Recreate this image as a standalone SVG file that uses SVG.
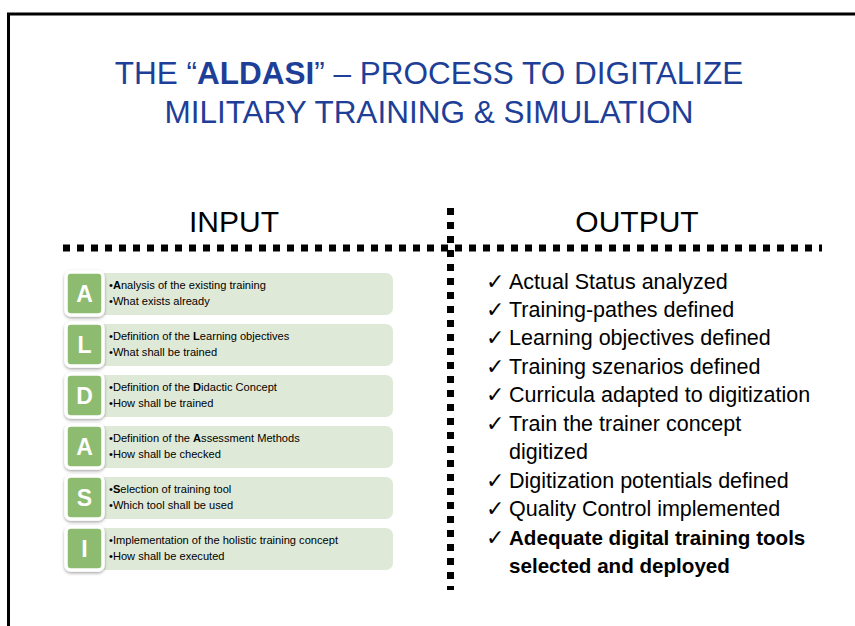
<svg xmlns="http://www.w3.org/2000/svg" width="855" height="626" viewBox="0 0 855 626">
<defs>
<filter id="sh" x="-30%" y="-30%" width="160%" height="160%">
<feDropShadow dx="0" dy="1.5" stdDeviation="1.6" flood-color="#000" flood-opacity="0.35"/>
</filter>
</defs>
<style>
.title{font-family:"Liberation Sans",Arial,sans-serif;font-size:31.5px;fill:#1e3f98;text-anchor:middle}
.head{font-family:"Liberation Sans",Arial,sans-serif;font-size:30px;fill:#000;text-anchor:middle}
.box{fill:#dfe9d7}
.sq{fill:#8dbb70;stroke:#fff;stroke-width:3.5;filter:url(#sh)}
.letter{font-family:"Liberation Sans",Arial,sans-serif;font-size:23px;font-weight:bold;fill:#fff;text-anchor:middle}
.bt{font-family:"Liberation Sans",Arial,sans-serif;font-size:11.1px;fill:#000}
.out{font-family:"Liberation Sans",Arial,sans-serif;font-size:21.5px;fill:#000}
.outb{font-family:"Liberation Sans",Arial,sans-serif;font-size:20.6px;font-weight:bold;fill:#000}
.chk{font-family:"DejaVu Sans",sans-serif;font-size:22px;fill:#000}
.dot{stroke:#000;stroke-width:7;stroke-dasharray:7 7;fill:none}
</style>
<rect width="855" height="626" fill="#fff"/>
<path d="M8.5,626 V14 H855" fill="none" stroke="#000" stroke-width="3"/>

<g id="title">
<text class="title" x="429" y="83.5">THE “<tspan font-weight="bold">ALDASI</tspan>” – PROCESS TO DIGITALIZE</text>
<text class="title" x="429" y="122.5">MILITARY TRAINING &amp; SIMULATION</text>
</g>

<g id="connectors">
<line class="dot" x1="63" y1="248" x2="822" y2="248"/>
<line class="dot" x1="450.5" y1="208" x2="450.5" y2="590"/>
</g>

<g id="input-head"><text class="head" x="234" y="232">INPUT</text></g>
<g id="output-head"><text class="head" x="637" y="232">OUTPUT</text></g>

<g id="row-A1">
<rect class="box" x="98" y="273" width="295" height="42" rx="7"/>
<rect class="sq" x="66" y="272" width="37" height="43" rx="5"/>
<text class="letter" x="84.5" y="301.5">A</text>
<text class="bt" x="109" y="289">•<tspan font-weight="bold">A</tspan>nalysis of the existing training</text>
<text class="bt" x="109" y="305">•What exists already</text>
</g>
<g id="row-L">
<rect class="box" x="98" y="324" width="295" height="42" rx="7"/>
<rect class="sq" x="66" y="323" width="37" height="43" rx="5"/>
<text class="letter" x="84.5" y="352.5">L</text>
<text class="bt" x="109" y="340">•Definition of the <tspan font-weight="bold">L</tspan>earning objectives</text>
<text class="bt" x="109" y="356">•What shall be trained</text>
</g>
<g id="row-D">
<rect class="box" x="98" y="375" width="295" height="42" rx="7"/>
<rect class="sq" x="66" y="374" width="37" height="43" rx="5"/>
<text class="letter" x="84.5" y="403.5">D</text>
<text class="bt" x="109" y="391">•Definition of the <tspan font-weight="bold">D</tspan>idactic Concept</text>
<text class="bt" x="109" y="407">•How shall be trained</text>
</g>
<g id="row-A2">
<rect class="box" x="98" y="426" width="295" height="42" rx="7"/>
<rect class="sq" x="66" y="425" width="37" height="43" rx="5"/>
<text class="letter" x="84.5" y="454.5">A</text>
<text class="bt" x="109" y="442">•Definition of the <tspan font-weight="bold">A</tspan>ssessment Methods</text>
<text class="bt" x="109" y="458">•How shall be checked</text>
</g>
<g id="row-S">
<rect class="box" x="98" y="477" width="295" height="42" rx="7"/>
<rect class="sq" x="66" y="476" width="37" height="43" rx="5"/>
<text class="letter" x="84.5" y="505.5">S</text>
<text class="bt" x="109" y="493">•<tspan font-weight="bold">S</tspan>election of training tool</text>
<text class="bt" x="109" y="509">•Which tool shall be used</text>
</g>
<g id="row-I">
<rect class="box" x="98" y="528" width="295" height="42" rx="7"/>
<rect class="sq" x="66" y="527" width="37" height="43" rx="5"/>
<text class="letter" x="84.5" y="556.5">I</text>
<text class="bt" x="109" y="544">•Implementation of the holistic training concept</text>
<text class="bt" x="109" y="560">•How shall be executed</text>
</g>

<g id="output-list">
<text class="chk" x="486" y="288.5">✓</text><text class="out" x="509" y="288.5">Actual Status analyzed</text>
<text class="chk" x="486" y="317">✓</text><text class="out" x="509" y="317">Training-pathes defined</text>
<text class="chk" x="486" y="345.4">✓</text><text class="out" x="509" y="345.4">Learning objectives defined</text>
<text class="chk" x="486" y="373.8">✓</text><text class="out" x="509" y="373.8">Training szenarios defined</text>
<text class="chk" x="486" y="402.3">✓</text><text class="out" x="509" y="402.3">Curricula adapted to digitization</text>
<text class="chk" x="486" y="430.7">✓</text><text class="out" x="509" y="430.7">Train the trainer concept</text>
<text class="out" x="509" y="459.2">digitized</text>
<text class="chk" x="486" y="487.6">✓</text><text class="out" x="509" y="487.6">Digitization potentials defined</text>
<text class="chk" x="486" y="516.1">✓</text><text class="out" x="509" y="516.1">Quality Control implemented</text>
<text class="chk" x="486" y="544.5">✓</text><text class="outb" x="509" y="544.5">Adequate digital training tools</text>
<text class="outb" x="509" y="573">selected and deployed</text>
</g>
</svg>
